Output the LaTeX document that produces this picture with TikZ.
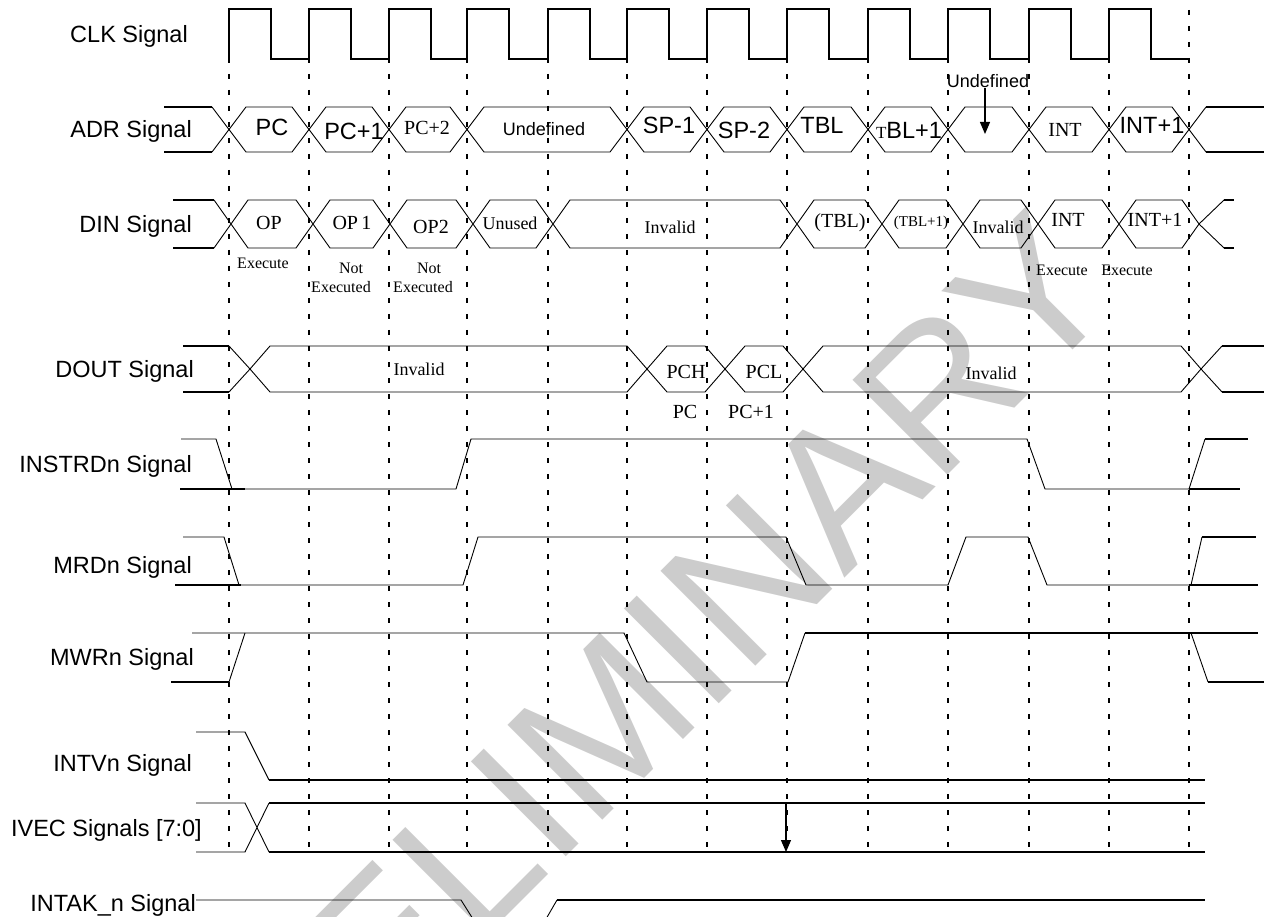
\documentclass[tikz,border=0pt]{standalone}
\usepackage{fontspec}
\setmainfont{Liberation Sans}
\newfontfamily\tms{Liberation Serif}
\usetikzlibrary{arrows.meta}
\begin{document}
\begin{tikzpicture}[x=1pt,y=-1pt,
  sig/.style={line width=0.9pt, line join=miter},
  stub/.style={line width=1.8pt},
  clk/.style={line width=1.6pt},
  gridl/.style={line width=1.2pt, dash pattern=on 5pt off 11pt},
  lbl/.style={anchor=base east, inner sep=0pt, font=\fontsize{23.5}{28}\selectfont},
  sf/.style={inner sep=0pt, font=\fontsize{23.5}{28}\selectfont},
  sfs/.style={inner sep=0pt, font=\fontsize{18}{22}\selectfont},
  tm/.style={inner sep=0pt, font=\tms\fontsize{20}{24}\selectfont},
  tms/.style={inner sep=0pt, font=\tms\fontsize{18}{22}\selectfont},
  tmx/.style={inner sep=0pt, font=\tms\fontsize{16}{18}\selectfont},
  arr/.style={line width=1.2pt, -{Triangle[length=12pt,width=10pt]}},
  wm/.style={inner sep=0pt, text=black!20, font=\fontsize{195}{200}\selectfont}
]
\useasboundingbox (0,0) rectangle (1264,917);
% watermark
\begin{scope}
\clip (0,0) rectangle (1264,917);
\node[wm, rotate=45] (wmark) at (612,716) {PRELIMINARY};
\end{scope}
% dashed grid
\foreach \x in {229,309,389,467,548,627,707,787,868,948,1029,1109,1189}
  \draw[gridl] (\x,10) -- (\x,850);
% labels
\node[lbl] (lclk) at (188,42.5) {CLK Signal};
\node[lbl] (ladr) at (192,138) {ADR Signal};
\node[lbl] (ldin) at (192,232.5) {DIN Signal};
\node[lbl] (ldout) at (194,377.5) {DOUT Signal};
\node[lbl] (linst) at (192,472) {INSTRDn Signal};
\node[lbl] (lmrd) at (192,573) {MRDn Signal};
\node[lbl] (lmwr) at (194,665.5) {MWRn Signal};
\node[lbl] (lintv) at (192,771.5) {INTVn Signal};
\node[lbl] (livec) at (202,836.5) {IVEC Signals [7:0]};
\node[lbl] (lintak) at (196,911) {INTAK\_n Signal};
% CLK
\draw[clk] (229,59) foreach \x/\n in {229/309,309/389,389/467,467/548,548/627,627/707,707/787,787/868,868/948,948/1029,1029/1109,1109/1189} { -- (\x,9) -- (\x+42,9) -- (\x+42,59) -- (\n,59) };
% ADR bus
\draw[stub] (164,107) -- (212,107) (164,152) -- (212,152);
\draw[sig] (212,107) -- (229,129.5) -- (212,152);
\foreach \a/\b in {229/309,309/389,389/467,467/627,627/707,707/787,787/868,868/948,948/1029,1029/1109,1109/1189}
  \draw[sig] (\a,129.5) -- (\a+17,107) -- (\b-17,107) -- (\b,129.5) -- (\b-17,152) -- (\a+17,152) -- cycle;
\draw[sig] (1206,107) -- (1189,129.5) -- (1206,152);
\draw[stub] (1206,107) -- (1264,107) (1206,152) -- (1264,152);
\node[sf] (a1) at (272,127) {PC};
\node[sf] (a2) at (354,131) {PC+1};
\node[tm] (a3) at (427,128) {PC+2};
\node[sfs] (a4) at (544,129) {Undefined};
\node[sf] (a5) at (669,125) {SP-1};
\node[sf] (a6) at (744,130) {SP-2};
\node[sf] (a7) at (822,125) {TBL};
\node[sf] (a8) at (909,130) {{\tms\fontsize{17}{20}\selectfont T}BL+1};
\node[tm] (a10) at (1065,130) {INT};
\node[sf] (a11) at (1152,125) {INT+1};
\node[sfs] (undef) at (988,81) {Undefined};
\coordinate (undtip) at (985,134);
\draw[arr] (undef.south -| undtip) -- (undtip);
% DIN bus
\draw[stub] (173,200) -- (214,200) (173,248) -- (214,248);
\draw[sig] (214,200) -- (231,224) -- (214,248);
\foreach \a/\b in {231/313,313/390,390/473,473/553,553/797,797/882,882/963,963/1038,1038/1119,1119/1199}
  \draw[sig] (\a,224) -- (\a+17,200) -- (\b-17,200) -- (\b,224) -- (\b-17,248) -- (\a+17,248) -- cycle;
\draw[sig] (1224,200) -- (1199,224) -- (1224,248);
\draw[stub] (1224,200) -- (1234,200) (1224,248) -- (1234,248);
\node[tm] (d1) at (269,223) {OP};
\node[tm] (d2) at (352,223) {OP\,1};
\node[tm] (d3) at (431,227) {OP2};
\node[tms] (d4) at (510,223) {Unused};
\node[tms] (d5) at (670,227) {Invalid};
\node[tm] (d6) at (840,223) {(TBL)};
\node[inner sep=0pt, font=\tms\fontsize{15}{18}\selectfont] (d7) at (921,223) {(TBL+1)};
\node[tms] (d8) at (998,227) {Invalid};
\node[tm] (d9) at (1068,220) {INT};
\node[tm] (d10) at (1155,220) {INT+1};
\node[tmx] (e1) at (263,263) {Execute};
\node[tmx] (e2) at (351,268) {Not};
\node[tmx] (e3) at (341,287) {Executed};
\node[tmx] (e4) at (429,268) {Not};
\node[tmx] (e5) at (423,287) {Executed};
\node[tmx] (e6) at (1062,270) {Execute};
\node[tmx] (e7) at (1127,270) {Execute};
% DOUT bus
\draw[stub] (183,346) -- (229,346) (183,392) -- (229,392);
\draw[sig] (229,346) -- (250,369) -- (229,392);
\foreach \a/\b in {250/647,647/725,725/803,803/1201}
  \draw[sig] (\a,369) -- (\a+20,346) -- (\b-20,346) -- (\b,369) -- (\b-20,392) -- (\a+20,392) -- cycle;
\draw[sig] (1222,346) -- (1201,369) -- (1222,392);
\draw[stub] (1222,346) -- (1264,346) (1222,392) -- (1264,392);
\node[tms] (o1) at (419,369) {Invalid};
\node[tm] (o2) at (686,372) {PCH};
\node[tm] (o3) at (764,372) {PCL};
\node[tms] (o4) at (991,373) {Invalid};
\node[tm] (o5) at (685,412) {PC};
\node[tm] (o6) at (751,412) {PC+1};
% INSTRDn
\draw[sig] (181,439) -- (216,439) -- (232,489) -- (456,489) -- (471,439) -- (1027,439) -- (1045,489) -- (1189,489) -- (1205,439);
\draw[stub] (180,489) -- (245,489) (1189,489) -- (1240,489) (1205,439) -- (1248,439);
% MRDn
\draw[sig] (183,537) -- (224,537) -- (239,585) -- (463,585) -- (478,537) -- (786,537) -- (806,585) -- (948,585) -- (966,537) -- (1028,537) -- (1047,585) -- (1191,585) -- (1202,537);
\draw[stub] (175,585) -- (241,585) (1189,585) -- (1258,585) (1202,537) -- (1256,537);
% MWRn
\draw[stub] (171,682) -- (229,682);
\draw[sig] (229,682) -- (245,633);
\draw[sig] (192,633) -- (624,633) -- (647,682) -- (788,682) -- (805,633);
\draw[stub] (805,633) -- (1258,633);
\draw[sig] (1191,633) -- (1208,682);
\draw[stub] (1208,682) -- (1264,682);
% INTVn
\draw[sig] (196,732) -- (245,732) -- (269,780);
\draw[stub] (269,780) -- (1205,780);
% IVEC
\draw[sig] (196,803) -- (245,803) -- (269,852) (196,852) -- (245,852) -- (269,803);
\draw[stub] (269,803) -- (1205,803) (269,852) -- (1205,852);
\coordinate (ivtop) at (786,803);
\coordinate (ivbot) at (786,852);
\draw[arr] (ivtop) -- (ivbot);
% INTAK
\draw[sig] (196,900) -- (461,900) -- (473,919) (546,919) -- (557,900);
\draw[stub] (557,900) -- (1205,900);
\end{tikzpicture}
\end{document}
